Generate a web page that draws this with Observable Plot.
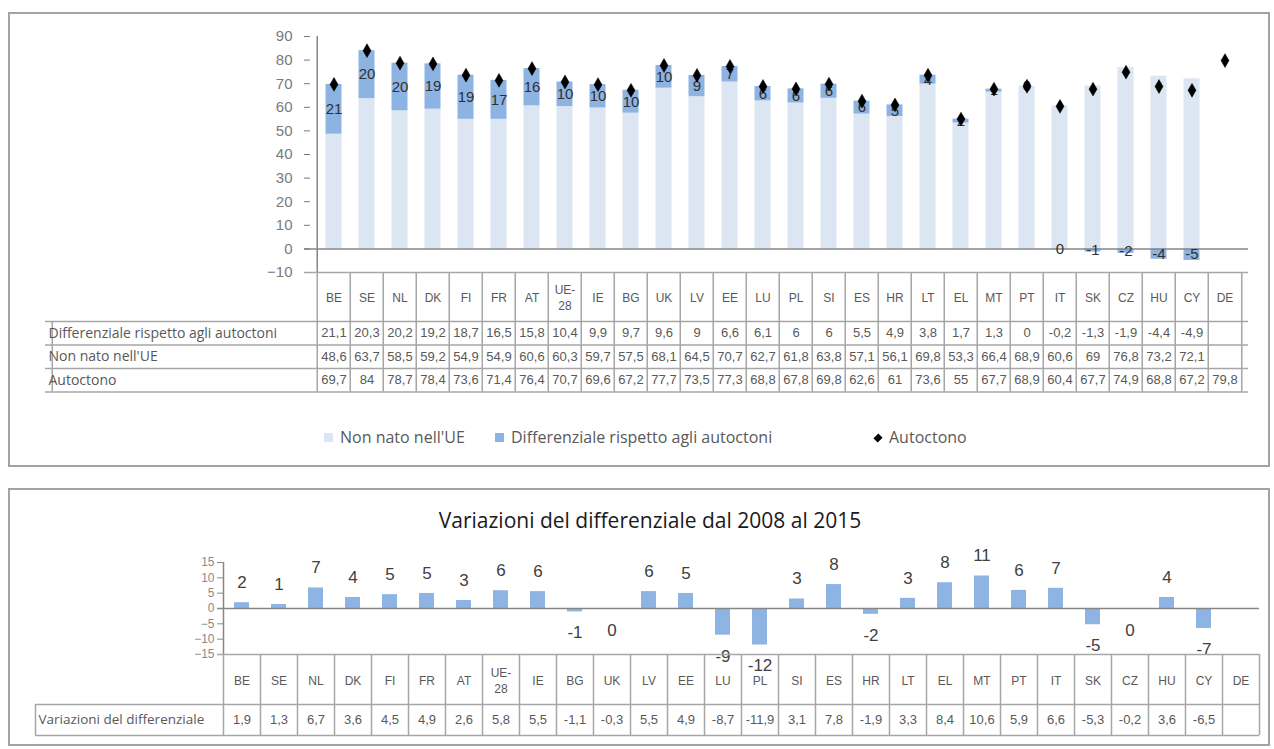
<!DOCTYPE html>
<html>
<head>
<meta charset="utf-8">
<script src="https://cdn.jsdelivr.net/npm/d3@7"></script>
<script src="https://cdn.jsdelivr.net/npm/@observablehq/plot@0.6"></script>
<style>
  html, body { margin: 0; padding: 0; background: #fff; }
  #root { position: relative; width: 1274px; height: 749px; overflow: hidden; font-family: "Liberation Sans", Arial, sans-serif; }
  .panel { position: absolute; border: 2px solid #a3a3a3; box-sizing: border-box; }
  .layer { position: absolute; left: 0; top: 0; }
  .layer svg { overflow: visible; }
  .legend-item { position: absolute; top: 426px; font-family: "Open Sans", sans-serif; font-size: 16px; color: #595959; white-space: nowrap; line-height: 22px; }
  .sw { display: inline-block; width: 9px; height: 9px; margin-right: 7px; vertical-align: 1px; }
  .diam { display: inline-block; width: 6px; height: 6px; background: #000; transform: rotate(45deg) scaleY(1.15); margin-right: 8px; vertical-align: 2px; }
  #title2 { position: absolute; left: 0; width: 1300px; top: 506px; text-align: center; font-family: "Open Sans", sans-serif; font-size: 21px; color: #1a1a1a; }
</style>
</head>
<body>
<div id="root">
  <div class="panel" style="left:8px;top:12px;width:1262px;height:455px;"></div>
  <div class="panel" style="left:8px;top:488px;width:1262px;height:258px;"></div>
  <div class="layer" id="chart1"></div>
  <div class="layer" id="chart2"></div>
  <div class="legend-item" id="lg1" style="left:324px;"></div>
  <div class="legend-item" id="lg2" style="left:495px;"></div>
  <div class="legend-item" id="lg3" style="left:875px;"></div>
  <div id="title2"></div>
</div>
<script>
// ---------- DATA ----------
const countries = ["BE","SE","NL","DK","FI","FR","AT","UE-28","IE","BG","UK","LV","EE","LU","PL","SI","ES","HR","LT","EL","MT","PT","IT","SK","CZ","HU","CY","DE"];
const diffAutoctoni = [21.1,20.3,20.2,19.2,18.7,16.5,15.8,10.4,9.9,9.7,9.6,9,6.6,6.1,6,6,5.5,4.9,3.8,1.7,1.3,0,-0.2,-1.3,-1.9,-4.4,-4.9,null];
const nonNatoUE = [48.6,63.7,58.5,59.2,54.9,54.9,60.6,60.3,59.7,57.5,68.1,64.5,70.7,62.7,61.8,63.8,57.1,56.1,69.8,53.3,66.4,68.9,60.6,69,76.8,73.2,72.1,null];
const autoctono = [69.7,84,78.7,78.4,73.6,71.4,76.4,70.7,69.6,67.2,77.7,73.5,77.3,68.8,67.8,69.8,62.6,61,73.6,55,67.7,68.9,60.4,67.7,74.9,68.8,67.2,79.8];
const variazioni = [1.9,1.3,6.7,3.6,4.5,4.9,2.6,5.8,5.5,-1.1,-0.3,5.5,4.9,-8.7,-11.9,3.1,7.8,-1.9,3.3,8.4,10.6,5.9,6.6,-5.3,-0.2,3.6,-6.5,null];
const seriesNames = ["Non nato nell'UE", "Differenziale rispetto agli autoctoni"];
const markerName = "Autoctono";
const tableLabels1 = ["Differenziale rispetto agli autoctoni", "Non nato nell'UE", "Autoctono"];
const tableLabels2 = ["Variazioni del differenziale"];
const title2 = "Variazioni del differenziale dal 2008 al 2015";
const yTicks1 = [-10,0,10,20,30,40,50,60,70,80,90];
const yTicks2 = [-15,-10,-5,0,5,10,15];

// ---------- HELPERS ----------
const W = 1274, H = 749;
const fmtIt = v => v == null ? "" : String(v).replace(".", ",");
const roundXl = v => { const r = Math.sign(v) * Math.round(Math.abs(v)); return String(r === 0 ? 0 : r); };
const catLabel = c => c.replace("-", "-\n");
const FONT = "'Liberation Sans', Arial, sans-serif";
const LABFONT = "'Open Sans', sans-serif";
const GRID = "#a6a6a6";
const TXT = "#595959";
const AX = "#868686";

// ---------- CHART 1 ----------
const rows = countries.map((c, i) => ({c, diff: diffAutoctoni[i], non: nonNatoUE[i], aut: autoctono[i]}));
const stacked = [];
rows.forEach(r => { if (r.non != null) stacked.push({c: r.c, s: seriesNames[0], v: r.non}); });
rows.forEach(r => { if (r.diff != null) stacked.push({c: r.c, s: seriesNames[1], v: r.diff}); });

const L1 = 310, R1 = 1248, T1 = 36, B1 = 272;
const k1 = (B1 - T1) / 100;
const yT1 = p => -10 - p / k1;            // pixel offset below the axis -> data units
const step1 = (R1 - L1) / countries.length;
const rowB1 = [0, 49, 72.5, 96, 119.5];
const rowC1 = [60.75, 84.25, 107.75];
const labW1 = 265;

const p1 = Plot.plot({
  width: W, height: H,
  marginTop: T1, marginBottom: H - B1, marginLeft: L1, marginRight: W - R1,
  x: {domain: countries, padding: 0, axis: null},
  y: {domain: [-10, 90], axis: null, label: null},
  color: {domain: seriesNames, range: ["#dce6f2", "#8db3e2"]},
  style: {fontFamily: FONT, background: "transparent", overflow: "visible"},
  marks: [
    Plot.barY(stacked, Plot.stackY({x: "c", y: "v", z: "s", fill: "s", insetLeft: 8.5, insetRight: 8.5})),
    Plot.ruleY([0], {stroke: AX, strokeWidth: 1.5, insetLeft: -6}),
    Plot.ruleX([countries[0]], {x: d => d, dx: -step1 / 2, y1: -10, y2: 90, stroke: AX, strokeWidth: 1.5}),
    Plot.axisY({ticks: yTicks1, tickSize: 6, tickPadding: 12, fontSize: 15, color: "#7a7a7a", label: null}),
    Plot.text(stacked, Plot.stackY({x: "c", y: "v", z: "s",
      text: d => d.s === seriesNames[1] ? roundXl(d.v) : null,
      fontSize: 15, fill: "#303030"})),
    Plot.dot(rows, {x: "c", y: "aut", symbol: "diamond", r: 4.2, fill: "#000", stroke: "#000", strokeWidth: 0.5}),
    // table
    Plot.ruleY([yT1(0)], {stroke: GRID, strokeWidth: 1.5, insetLeft: -6}),
    Plot.ruleY(rowB1.slice(1).map(yT1), {stroke: GRID, strokeWidth: 1.5, insetLeft: -labW1}),
    Plot.ruleX(countries, {x: d => d, dx: -step1 / 2, y1: yT1(0), y2: yT1(119.5), stroke: GRID, strokeWidth: 1.5}),
    Plot.ruleX([countries[countries.length - 1]], {x: d => d, dx: step1 / 2, y1: yT1(0), y2: yT1(119.5), stroke: GRID, strokeWidth: 1.5}),
    Plot.ruleX([countries[0]], {x: d => d, dx: -step1 / 2 - labW1, y1: yT1(49), y2: yT1(119.5), stroke: GRID, strokeWidth: 1.5}),
    Plot.text(rows, {x: "c", y: yT1(24.5), text: d => catLabel(d.c), fontSize: 12, fill: TXT, lineHeight: 1.35}),
    Plot.text(rows, {x: "c", y: yT1(rowC1[0]), text: d => fmtIt(d.diff), fontSize: 13, fill: TXT}),
    Plot.text(rows, {x: "c", y: yT1(rowC1[1]), text: d => fmtIt(d.non), fontSize: 13, fill: TXT}),
    Plot.text(rows, {x: "c", y: yT1(rowC1[2]), text: d => fmtIt(d.aut), fontSize: 13, fill: TXT}),
    Plot.text(tableLabels1, {y: (d, i) => yT1(rowC1[i]), text: d => d, frameAnchor: "left", textAnchor: "start", dx: -labW1 + 3, fontSize: 14, fontFamily: LABFONT, fill: TXT})
  ]
});
document.getElementById("chart1").appendChild(p1);

// legend
document.getElementById("lg1").innerHTML = `<span class="sw" style="background:#dce6f2"></span>${seriesNames[0]}`;
document.getElementById("lg2").innerHTML = `<span class="sw" style="background:#8db3e2"></span>${seriesNames[1]}`;
document.getElementById("lg3").innerHTML = `<span class="diam"></span>${markerName}`;

// ---------- CHART 2 ----------
document.getElementById("title2").textContent = title2;
const rows2 = countries.map((c, i) => ({c, v: variazioni[i]}));
const bars2 = rows2.filter(d => d.v != null);
const L2 = 223, R2 = 1259, T2 = 562, B2 = 654;
const k2 = (B2 - T2) / 30;
const yT2 = p => -15 - p / k2;
const step2 = (R2 - L2) / countries.length;
const labW2 = 188;

const p2 = Plot.plot({
  width: W, height: H,
  marginTop: T2, marginBottom: H - B2, marginLeft: L2, marginRight: W - R2,
  x: {domain: countries, padding: 0, axis: null},
  y: {domain: [-15, 15], axis: null, label: null},
  style: {fontFamily: FONT, background: "transparent", overflow: "visible"},
  marks: [
    Plot.barY(bars2, {x: "c", y: "v", fill: "#8db4e2", insetLeft: 11, insetRight: 11}),
    Plot.ruleY([0], {stroke: AX, strokeWidth: 1.5, insetLeft: -6}),
    Plot.ruleX([countries[0]], {x: d => d, dx: -step2 / 2, y1: -15, y2: 15, stroke: AX, strokeWidth: 1.5}),
    Plot.axisY({ticks: yTicks2, tickSize: 6, tickPadding: 3, fontSize: 12, color: "#8a8a8a", label: null}),
    Plot.text(bars2.filter(d => d.v >= 0), {x: "c", y: "v", text: d => roundXl(d.v), dy: -20, fontSize: 17, fill: "#404040"}),
    Plot.text(bars2.filter(d => d.v < 0), {x: "c", y: "v", text: d => roundXl(d.v), dy: 21, fontSize: 17, fill: "#404040"}),
    // table
    Plot.ruleY([yT2(0)], {stroke: GRID, strokeWidth: 1.5, insetLeft: -6}),
    Plot.ruleY([yT2(50), yT2(81)], {stroke: GRID, strokeWidth: 1.5, insetLeft: -labW2}),
    Plot.ruleX(countries, {x: d => d, dx: -step2 / 2, y1: yT2(0), y2: yT2(81), stroke: GRID, strokeWidth: 1.5}),
    Plot.ruleX([countries[countries.length - 1]], {x: d => d, dx: step2 / 2, y1: yT2(0), y2: yT2(81), stroke: GRID, strokeWidth: 1.5}),
    Plot.ruleX([countries[0]], {x: d => d, dx: -step2 / 2 - labW2, y1: yT2(50), y2: yT2(81), stroke: GRID, strokeWidth: 1.5}),
    Plot.text(rows2, {x: "c", y: yT2(25), text: d => catLabel(d.c), fontSize: 12, fill: TXT, lineHeight: 1.35}),
    Plot.text(rows2, {x: "c", y: yT2(65.5), text: d => fmtIt(d.v), fontSize: 13, fill: TXT}),
    Plot.text(tableLabels2, {y: yT2(65.5), text: d => d, frameAnchor: "left", textAnchor: "start", dx: -labW2 + 3, fontSize: 13.5, fontFamily: LABFONT, fill: TXT})
  ]
});
document.getElementById("chart2").appendChild(p2);
</script>
</body>
</html>
